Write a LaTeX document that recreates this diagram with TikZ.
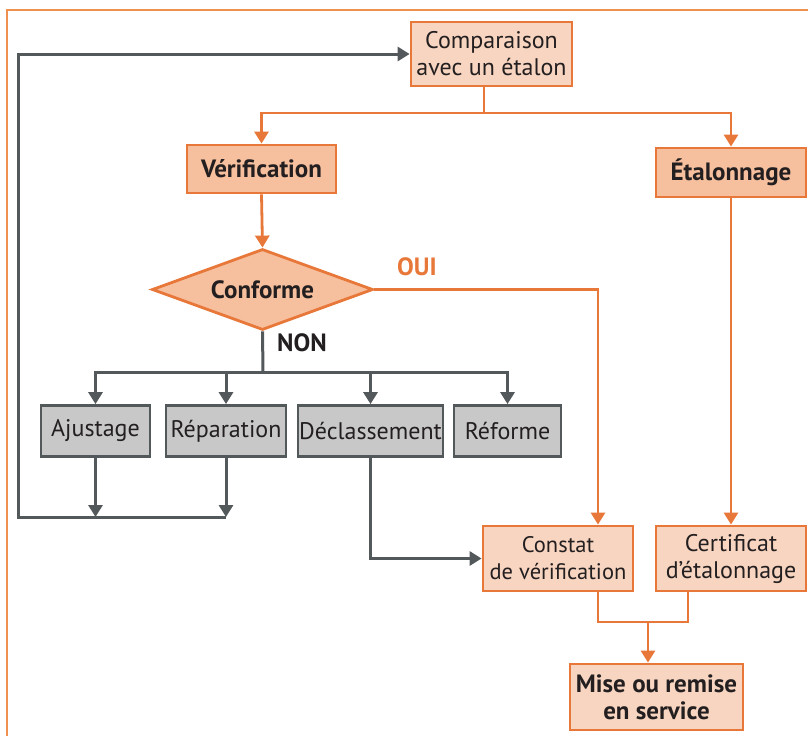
\documentclass[tikz,border=0pt]{standalone}
\usepackage{fontspec}
\setmainfont{PT Sans}
\usetikzlibrary{shapes.geometric, arrows.meta, positioning}
\definecolor{orangeligne}{HTML}{E8783A}
\definecolor{orangecadre}{HTML}{F0904F}
\definecolor{orangeclair}{HTML}{F8D5C0}
\definecolor{orangefonce}{HTML}{F6BF9D}
\definecolor{grisfond}{HTML}{C8C8C8}
\definecolor{grisligne}{HTML}{53585A}
\definecolor{texte}{HTML}{231F20}

\begin{document}
\begin{tikzpicture}[x=1pt, y=-1pt,
  txt/.style={font=\fontsize{24}{27}\selectfont, text=texte, align=center, inner sep=0pt},
  gras/.style={font=\fontsize{25}{27}\selectfont\bfseries},
  boite/.style={txt, draw=orangeligne, line width=2.8pt, fill=orangeclair},
  boitefonce/.style={boite, gras, fill=orangefonce},
  boitegris/.style={txt, draw=grisligne, line width=2.8pt, fill=grisfond, minimum height=51pt},
  liaison/.style={draw=orangeligne, line width=2.8pt},
  fleche/.style={liaison, -{Triangle[width=14pt,length=12pt]}},
  liaisongris/.style={draw=grisligne, line width=3pt},
  flechegris/.style={liaisongris, -{Triangle[width=14pt,length=12pt]}}
]
  \useasboundingbox (0,0) rectangle (808,736);
  % Cadre
  \draw[orangecadre, line width=1.5pt] (7,736) -- (7,10) -- (808,10);

  % Boites orange
  \node[boite, minimum width=161pt, minimum height=64pt] (comp) at (491.5,54) {Comparaison\\avec un étalon};
  \node[boitefonce, minimum width=149pt, minimum height=48pt] (verif) at (261.5,169) {Vérification};
  \node[boitefonce, minimum width=150pt, minimum height=49pt] (etal) at (731,172.5) {Étalonnage};
  \node[boitefonce, diamond, shape aspect=2.7, minimum width=221pt, minimum height=81pt] (conf) at (262.5,289.5) {Conforme};

  % Boites grises
  \node[boitegris, minimum width=109pt] (ajust) at (95.5,431) {Ajustage};
  \node[boitegris, minimum width=120pt] (repar) at (226,431) {Réparation};
  \node[boitegris, minimum width=145pt] (declas) at (370.5,431) {Déclassement};
  \node[boitegris, minimum width=107pt] (reform) at (507.5,431) {Réforme};

  % Documents
  \node[boite, font=\fontsize{22.5}{27}\selectfont, minimum width=150pt, minimum height=65pt] (constat) at (558,558.5) {Constat\\de vérification};
  \node[boite, minimum width=150pt, minimum height=65pt] (certif) at (731,558.5) {Certificat\\d’étalonnage};
  \node[boite, gras, minimum width=173pt, minimum height=66pt] (mise) at (656.5,697) {Mise ou remise\\en service};

  % Etiquettes
  \node[txt, gras, text=orangeligne] (oui) at (417,267) {OUI};
  \node[txt, gras] (non) at (302,343) {NON};

  % Points de jonction
  \coordinate (partage) at (484,113);
  \coordinate (repartition) at (263,372);
  \coordinate (retour) at (18,517);
  \coordinate (entreeC) at ([xshift=40pt]constat.north);
  \coordinate (sortieC) at ([xshift=40pt]constat.south);
  \coordinate (sortieE) at ([xshift=-43pt]certif.south);
  \coordinate (jonction) at (648,622);

  % Liaisons orange
  \draw[liaison] (comp.south -| partage) -- (partage);
  \draw[fleche] (partage) -| (verif.north);
  \draw[fleche] (partage) -| (etal.north);
  \draw[fleche] (verif.south) -- (conf.north);
  \draw[fleche] (conf.east) -| (entreeC);
  \draw[fleche] (etal.south) -- (certif.north);
  \draw[liaison] (sortieC) |- (jonction) -| (sortieE);
  \draw[fleche] (jonction) -- (jonction |- mise.north);

  % Liaisons grises
  \draw[liaisongris] (conf.south) -- (repartition);
  \draw[flechegris] (repartition) -| (ajust.north);
  \draw[flechegris] (repartition) -| (repar.north);
  \draw[flechegris] (repartition) -| (declas.north);
  \draw[flechegris] (repartition) -| (reform.north);
  \draw[flechegris] (ajust.south) -- (ajust.south |- retour);
  \draw[flechegris] (repar.south) -- (repar.south |- retour);
  \draw[flechegris] (repar.south |- retour) -- (retour) |- (comp.west);
  \draw[flechegris] (declas.south) |- (constat.west);
\end{tikzpicture}
\end{document}
